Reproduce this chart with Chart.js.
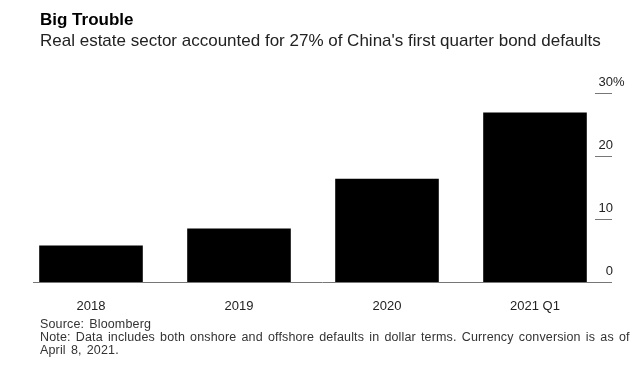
<!DOCTYPE html>
<html>
<head>
<meta charset="utf-8">
<script src="https://cdn.jsdelivr.net/npm/chart.js@4"></script>
<style>
  body { margin: 0; width: 640px; height: 368px; position: relative; background: #fff; font-family: "Liberation Sans", Arial, sans-serif; overflow: hidden; }
  #chart-wrap { position: absolute; left: 0; top: 0; width: 640px; height: 368px; }
  .title { position: absolute; left: 40px; top: 10px; font-size: 17px; font-weight: bold; color: #000; }
  .subtitle { position: absolute; left: 40px; top: 31px; font-size: 17px; color: #222; }
  .footer { position: absolute; left: 40px; top: 318px; font-size: 12.5px; line-height: 13px; letter-spacing: 0.15px; word-spacing: 1.5px; color: #333; width: 600px; }
</style>
</head>
<body>
<div id="chart-wrap"><canvas id="chart"></canvas></div>
<div class="title">Big Trouble</div>
<div class="subtitle">Real estate sector accounted for 27% of China's first quarter bond defaults</div>
<div class="footer">Source: Bloomberg<br>Note: Data includes both onshore and offshore defaults in dollar terms. Currency conversion is as of<br>April 8, 2021.</div>
<script>
// chart values
const categories = ["2018", "2019", "2020", "2021 Q1"];
const shareOfDefaults = [5.8, 8.5, 16.4, 26.9];
const yTicks = [0, 10, 20, 30];

// short tick marks on the right, baseline at 0, and "%" after the top label
const bloombergAxis = {
  id: "bloombergAxis",
  afterDraw(chart) {
    const ctx = chart.ctx;
    const y = chart.scales.y;
    const area = chart.chartArea;
    const right = area.right + 3;
    ctx.save();
    ctx.lineWidth = 1;
    yTicks.forEach((v) => {
      const py = Math.round(y.getPixelForValue(v)) + 0.5;
      ctx.strokeStyle = "#777";
      ctx.beginPath();
      if (v === 0) {
        ctx.moveTo(33, py);
      } else {
        ctx.moveTo(right - 17, py);
      }
      ctx.lineTo(right, py);
      ctx.stroke();
    });
    // percent sign after the top label
    ctx.font = "13px 'Liberation Sans', Arial, sans-serif";
    ctx.fillStyle = "#222";
    ctx.textBaseline = "middle";
    ctx.textAlign = "left";
    ctx.fillText("%", right + 1, y.getPixelForValue(yTicks[yTicks.length - 1]) - 11);
    ctx.restore();
  },
};

const data = {
  labels: categories,
  datasets: [
    {
      label: "Real estate share of bond defaults",
      data: shareOfDefaults,
      backgroundColor: "#000",
      borderWidth: 0,
      barPercentage: 0.7,
      categoryPercentage: 1,
    },
  ],
};

const config = {
  type: "bar",
  data: data,
  options: {
    responsive: true,
    maintainAspectRatio: false,
    animation: false,
    layout: { padding: { left: 17, top: 93, right: 0, bottom: 46 } },
    plugins: { legend: { display: false }, tooltip: { enabled: false } },
    scales: {
      x: {
        offset: true,
        grid: { display: false },
        border: { display: false },
        ticks: {
          color: "#222",
          padding: 9,
          font: { family: "'Liberation Sans', Arial, sans-serif", size: 13 },
        },
        afterFit(scale) {
          scale.height = 40;
        },
      },
      y: {
        position: "right",
        min: 0,
        max: 30,
        afterBuildTicks(scale) {
          scale.ticks = yTicks.map((v) => ({ value: v }));
        },
        grid: { display: false, drawTicks: false },
        border: { display: false },
        ticks: {
          color: "#222",
          mirror: true,
          crossAlign: "near",
          padding: 4,
          labelOffset: -11,
          font: { family: "'Liberation Sans', Arial, sans-serif", size: 13 },
        },
        afterFit(scale) {
          scale.width = 31;
        },
      },
    },
  },
  plugins: [bloombergAxis],
};

const myChart = new Chart(document.getElementById("chart"), config);
</script>
</body>
</html>
